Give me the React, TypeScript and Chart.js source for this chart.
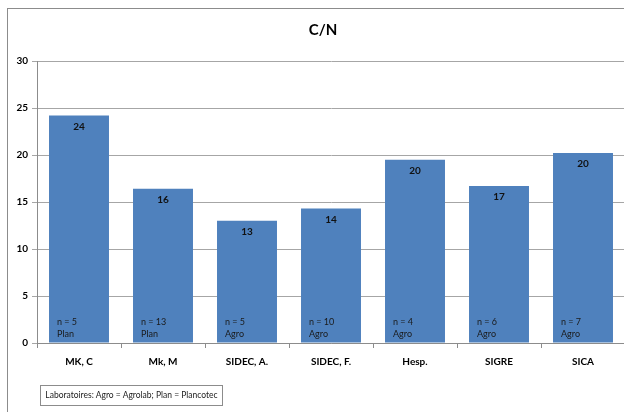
import React, { useEffect, useRef } from "react";
import { Chart, registerables } from "chart.js";

Chart.register(...registerables);

const categories = ["MK, C", "Mk, M", "SIDEC, A.", "SIDEC, F.", "Hesp.", "SIGRE", "SICA"];
const values = [24.2, 16.4, 13.0, 14.3, 19.5, 16.7, 20.2];
const nCounts = [5, 13, 5, 10, 4, 6, 7];
const labs = ["Plan", "Plan", "Agro", "Agro", "Agro", "Agro", "Agro"];
const titleText = "C/N";
const legendText = "Laboratoires: Agro = Agrolab; Plan = Plancotec";

const FONT = "Lato, 'Open Sans', sans-serif";

const labelPlugin = {
  id: "barLabels",
  afterDatasetsDraw(chart: any) {
    const ctx = chart.ctx;
    const meta = chart.getDatasetMeta(0);
    ctx.save();
    meta.data.forEach((bar: any, i: number) => {
      const left = bar.x - bar.width / 2;
      ctx.fillStyle = "#111";
      ctx.textAlign = "center";
      ctx.textBaseline = "middle";
      ctx.font = `bold 10px ${FONT}`;
      ctx.fillText(String(Math.round(values[i])), bar.x, bar.y + 11);
      ctx.textAlign = "left";
      ctx.font = `9px ${FONT}`;
      ctx.fillStyle = "#1a1a1a";
      ctx.fillText(`n = ${nCounts[i]}`, left + 8, bar.base - 20);
      ctx.fillText(labs[i], left + 8, bar.base - 8);
    });
    // title
    ctx.textAlign = "center";
    ctx.textBaseline = "middle";
    ctx.fillStyle = "#000";
    ctx.font = `bold 15px ${FONT}`;
    ctx.fillText(titleText, 315, 21);
    ctx.restore();
  },
};

export default function App() {
  const ref = useRef<HTMLCanvasElement>(null);
  useEffect(() => {
    if (!ref.current) return;
    const chart = new Chart(ref.current, {
      type: "bar",
      data: {
        labels: categories,
        datasets: [
          {
            data: values,
            backgroundColor: "#4F81BD",
            borderColor: "#4A7EBB",
            borderWidth: 0,
            categoryPercentage: 1,
            barPercentage: 0.714,
          },
        ],
      },
      options: {
        animation: false,
        responsive: false,
        devicePixelRatio: 1,
        layout: { padding: { top: 52, left: 0, right: 7, bottom: 0 } },
        plugins: {
          legend: { display: false },
          title: { display: false },
          tooltip: { enabled: false },
        },
        scales: {
          x: {
            afterFit(scale: any) {
              scale.height = 69;
            },
            grid: {
              drawOnChartArea: false,
              drawTicks: true,
              tickLength: 5,
              color: "#8c8c8c",
              offset: true,
            },
            border: { display: true, color: "#8c8c8c" },
            ticks: {
              padding: 8,
              color: "#000",
              font: { family: FONT, size: 10, weight: "bold" },
              maxRotation: 0,
            },
          },
          y: {
            min: 0,
            max: 30,
            afterFit(scale: any) {
              scale.width = 29;
            },
            grid: {
              color: "#a6a6a6",
              tickLength: 5,
              drawTicks: true,
            },
            border: { display: true, color: "#8c8c8c" },
            ticks: {
              stepSize: 5,
              padding: 4,
              color: "#000",
              font: { family: FONT, size: 10, weight: "bold" },
            },
          },
        },
      },
      plugins: [labelPlugin],
    } as any);
    return () => chart.destroy();
  }, []);

  return (
    <div
      style={{
        position: "fixed",
        left: 0,
        top: 0,
        width: 624,
        height: 412,
        overflow: "hidden",
        background: "#fff",
      }}
    >
      <div
        style={{
          position: "absolute",
          left: 7,
          top: 8,
          width: 640,
          height: 420,
          borderLeft: "1px solid #8c8c8c",
          borderTop: "1px solid #8c8c8c",
        }}
      >
        <canvas
          ref={ref}
          width={624}
          height={403}
          style={{ position: "absolute", left: 0, top: 0, width: 624, height: 403 }}
        />
        <div
          style={{
            position: "absolute",
            left: 32,
            top: 376,
            width: 181,
            height: 19,
            border: "1px solid #8c8c8c",
            fontFamily: FONT,
            fontSize: 8.5,
            lineHeight: "19px",
            textAlign: "center",
            color: "#222",
            whiteSpace: "nowrap",
          }}
        >
          {legendText}
        </div>
      </div>
    </div>
  );
}
